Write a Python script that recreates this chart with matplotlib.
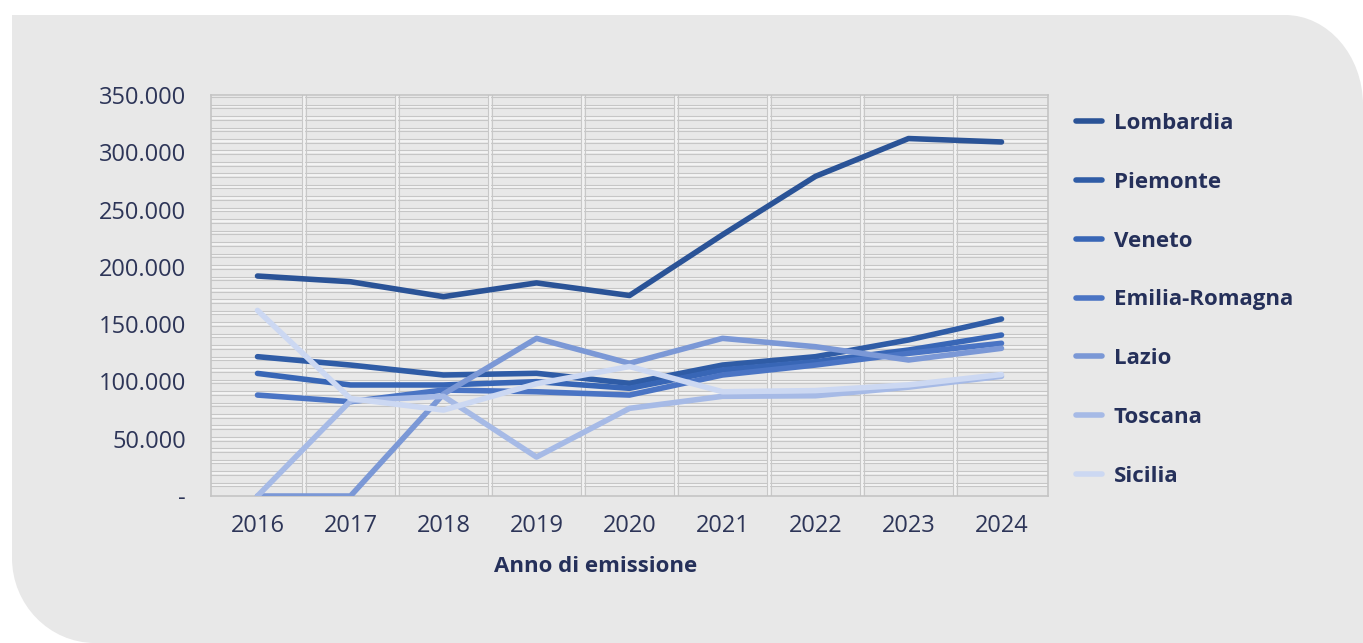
import numpy as np
import matplotlib.pyplot as plt
from matplotlib.path import Path
from matplotlib.patches import PathPatch
from matplotlib.ticker import FuncFormatter, MultipleLocator
from matplotlib.transforms import ScaledTranslation

plt.rcParams['font.family'] = ['Open Sans', 'DejaVu Sans']

years = ['2016', '2017', '2018', '2019', '2020', '2021', '2022', '2023', '2024']
lombardia = [192000, 187000, 174000, 186000, 175000, 228000, 279000, 312000, 309000]
piemonte = [121600, 114300, 105600, 107100, 98300, 114300, 121600, 136200, 154500]
veneto = [107000, 96900, 96900, 99800, 94000, 110000, 117200, 127400, 140500]
emilia = [88100, 82300, 92500, 91000, 88100, 105600, 114300, 124500, 133300]
lazio = [0, 0, 89000, 137600, 115800, 137600, 130300, 118700, 128900]
toscana = [0, 83000, 87000, 34000, 76500, 87000, 87500, 95000, 104500]
sicilia = [162000, 85000, 75000, 98000, 113000, 91000, 92000, 97000, 106000]

regions = ['Lombardia', 'Piemonte', 'Veneto', 'Emilia-Romagna', 'Lazio', 'Toscana', 'Sicilia']
series = [lombardia, piemonte, veneto, emilia, lazio, toscana, sicilia]
colors = ['#2a5397', '#2f5ca6', '#3866b6', '#4a74c4', '#7b98d6', '#a6bae6', '#ccd8f2']

W, H = 1363, 643
fig = plt.figure(figsize=(W / 100, H / 100), dpi=100)
fig.patch.set_facecolor('white')

# grey card behind the chart, rounded top-right and bottom-left corners
def px(x, y):
    return (x / W, 1 - y / H)

k = 0.55
verts = [px(12, 15), px(1285, 15),
         px(1285 + 78 * k, 15), px(1363, 15 + 90 * (1 - k)), px(1363, 105),
         px(1363, 643), px(95, 643),
         px(95 - 83 * k, 643), px(12, 643 - 85 * (1 - k)), px(12, 558),
         px(12, 15)]
codes = [Path.MOVETO, Path.LINETO,
         Path.CURVE4, Path.CURVE4, Path.CURVE4,
         Path.LINETO, Path.LINETO,
         Path.CURVE4, Path.CURVE4, Path.CURVE4,
         Path.CLOSEPOLY]
card = PathPatch(Path(verts, codes), transform=fig.transFigure,
                 facecolor='#e8e8e8', edgecolor='none', zorder=-10)
fig.add_artist(card)

ax = fig.add_axes([211 / W, 1 - 496 / H, (1048 - 211) / W, (496 - 95) / H])
ax.set_facecolor('#e8e8e8')
ax.set_zorder(1)

x = np.arange(len(years))

# Excel-like doubled grid lines
ytr = ax.get_yaxis_transform()
xtr = ax.get_xaxis_transform()
up = ytr + ScaledTranslation(0, 1.3 / 72, fig.dpi_scale_trans)
down = ytr + ScaledTranslation(0, -1.3 / 72, fig.dpi_scale_trans)
for v in np.arange(10000, 350001, 10000):
    ax.plot([0, 1], [v, v], color='#f4f4f4', lw=1.6, zorder=1, transform=ytr)
    ax.plot([0, 1], [v, v], color='#c6c6c6', lw=0.8, zorder=1, transform=up)
    ax.plot([0, 1], [v, v], color='#c6c6c6', lw=0.8, zorder=1, transform=down)
left = xtr + ScaledTranslation(-1.3 / 72, 0, fig.dpi_scale_trans)
right = xtr + ScaledTranslation(1.3 / 72, 0, fig.dpi_scale_trans)
for b in np.arange(0.5, len(years) - 1, 1.0):
    ax.plot([b, b], [0, 1], color='#f2f2f2', lw=1.6, zorder=1, transform=xtr)
    ax.plot([b, b], [0, 1], color='#c8c8c8', lw=0.8, zorder=1, transform=left)
    ax.plot([b, b], [0, 1], color='#c8c8c8', lw=0.8, zorder=1, transform=right)

for name, vals, c in zip(regions, series, colors):
    ax.plot(x, vals, color=c, lw=4, label=name, solid_capstyle='round',
            solid_joinstyle='round', zorder=3)

ax.set_xlim(-0.5, len(years) - 0.5)
ax.set_ylim(0, 350000)
ax.set_xticks(x)
ax.set_xticklabels(years)
ax.yaxis.set_major_locator(MultipleLocator(50000))


def ita(v, pos):
    if v == 0:
        return '-'
    return f'{int(v):,}'.replace(',', '.')


ax.yaxis.set_major_formatter(FuncFormatter(ita))
tick_color = '#2d3558'
ax.tick_params(axis='both', length=0, labelsize=17, colors=tick_color)
ax.tick_params(axis='y', pad=18)
ax.tick_params(axis='x', pad=13)
for s in ax.spines.values():
    s.set_color('#c4c4c4')
    s.set_linewidth(1.2)

fig.text(596 / W, 1 - 566 / H, 'Anno di emissione', ha='center', va='center',
         fontsize=16, fontweight='bold', color='#25305a')

handles = [l for l in ax.get_lines() if not l.get_label().startswith('_')]
leg = ax.legend(handles=handles, loc='upper left',
                bbox_to_anchor=(1076 / W, 1 - 113 / H),
                bbox_transform=fig.transFigure, frameon=False, fontsize=16,
                handlelength=1.15, handletextpad=0.55, labelspacing=1.70,
                borderpad=0, borderaxespad=0)
for t in leg.get_texts():
    t.set_fontweight('bold')
    t.set_color('#25305a')
for h in leg.get_lines():
    h.set_linewidth(4)

fig.savefig('out.png', dpi=100, facecolor=fig.get_facecolor())
